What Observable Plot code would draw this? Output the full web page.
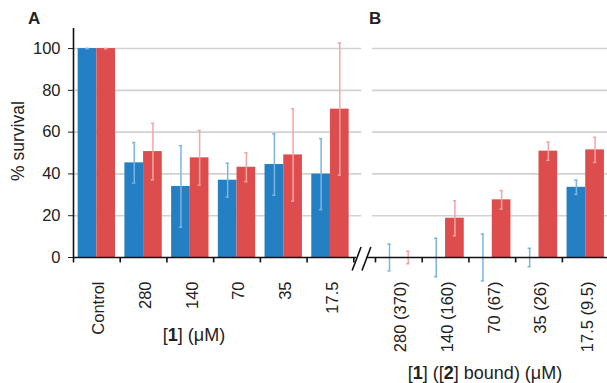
<!DOCTYPE html>
<html>
<head>
<meta charset="utf-8">
<script src="https://cdn.jsdelivr.net/npm/d3@7"></script>
<script src="https://cdn.jsdelivr.net/npm/@observablehq/plot@0.6"></script>
<style>
  html, body { margin: 0; padding: 0; background: #fff; }
  #wrap { position: relative; width: 607px; height: 383px; overflow: hidden; font-family: "Liberation Sans", Arial, sans-serif; color: #222; }
  .lbl { position: absolute; white-space: nowrap; transform: translate(-50%, -50%); font-size: 18px; }
  .panel { position: absolute; font-weight: bold; font-size: 17px; }
</style>
</head>
<body>
<div id="wrap"></div>
<script>
// ---- data ----
const catsA = ["Control", "280", "140", "70", "35", "17.5"];
const blueA = [100, 45.3, 34.0, 37.0, 44.5, 39.9];
const blueErrA = [0, 9.7, 19.5, 8.1, 14.7, 17.0];
const redA = [100, 50.7, 47.7, 43.2, 49.1, 71.0];
const redErrA = [0, 13.5, 13.1, 6.9, 22.1, 31.6];

const catsB = ["280 (370)", "140 (160)", "70 (67)", "35 (26)", "17.5 (9.5)"];
const blueB = [0, 0, 0, 0, 33.6];
const blueErrB = [6.4, 9.2, 11.2, 4.4, 3.4];
const redB = [0, 18.8, 27.6, 50.9, 51.5];
const redErrB = [3.0, 8.4, 4.4, 4.4, 6.0];

const yTicks = [0, 20, 40, 60, 80, 100];

// ---- layout constants (in band units) ----
const BSTART = 6.464;        // start of panel B after the axis break
const XMAX = 11.43;
const YMAX = 109.6;
const BLUE = "#2580c3", RED = "#dd4d4d";
const BLUE_E = "#7ab5e4", RED_E = "#f5a5a5";

function build(cats, blue, blueErr, red, redErr, start) {
  return cats.map((c, i) => ({
    cat: c, x0: start + i,
    blue: blue[i], blueErr: blueErr[i], red: red[i], redErr: redErr[i]
  }));
}
const groups = [...build(catsA, blueA, blueErrA, redA, redErrA, 0),
                ...build(catsB, blueB, blueErrB, redB, redErrB, BSTART)];

const bars = groups.flatMap(g => [
  {x1: g.x0 + 0.1, x2: g.x0 + 0.5, v: g.blue, e: g.blueErr, s: "blue"},
  {x1: g.x0 + 0.5, x2: g.x0 + 0.9, v: g.red, e: g.redErr, s: "red"}
]);
const errs = bars.map(b => ({...b, xc: (b.x1 + b.x2) / 2}));
const cap = 0.035;

const boundaries = [...d3.range(0, 7), ...d3.range(0, 5).map(i => BSTART + i)];
const grid = yTicks.filter(t => t > 0).flatMap(t => [
  {y: t, x1: 0, x2: 6.17},
  {y: t, x1: 6.40, x2: XMAX}
]);
const axisSegs = [{x1: 0, x2: 6.06}, {x1: 6.27, x2: XMAX}];
const slashes = [6.06, 6.27];
const eColor = d => d.s === "blue" ? BLUE_E : RED_E;

const plot = Plot.plot({
  width: 607,
  height: 383,
  marginLeft: 73,
  marginRight: 0,
  marginTop: 28,
  marginBottom: 126,
  style: {fontFamily: "Liberation Sans, Arial, sans-serif", fontSize: "16.5px", color: "#222", background: "transparent"},
  x: {domain: [0, XMAX], axis: null},
  y: {domain: [0, YMAX], ticks: yTicks, tickSize: 5, tickPadding: 8, label: null, tickFormat: d => d},
  marks: [
    Plot.ruleY(grid, {y: "y", x1: "x1", x2: "x2", stroke: "#d2d2d2", strokeWidth: 1.6}),
    Plot.rect(bars, {x1: "x1", x2: "x2", y1: () => 0, y2: "v", fill: d => d.s === "blue" ? BLUE : RED}),
    Plot.ruleX(errs, {x: "xc", y1: d => d.v - d.e, y2: d => d.v + d.e, stroke: eColor, strokeWidth: 1.5}),
    Plot.ruleY(errs, {y: d => d.v + d.e, x1: d => d.xc - cap, x2: d => d.xc + cap, stroke: eColor, strokeWidth: 1.5}),
    Plot.ruleY(errs, {y: d => d.v - d.e, x1: d => d.xc - cap, x2: d => d.xc + cap, stroke: eColor, strokeWidth: 1.5}),
    Plot.ruleY(axisSegs, {y: () => 0, x1: "x1", x2: "x2", stroke: "#111", strokeWidth: 1.6}),
    Plot.ruleX([0], {y1: 0, y2: YMAX, stroke: "#111", strokeWidth: 1.6}),
    Plot.ruleX(boundaries, {x: d => d, y1: () => 0, y2: () => -2.6, stroke: "#111", strokeWidth: 1.6}),
    Plot.link(slashes, {x1: d => d - 0.095, x2: d => d + 0.095, y1: () => -6.2, y2: () => 5.0, stroke: "#111", strokeWidth: 1.6}),
    Plot.text(groups, {x: d => d.x0 + 0.5, y: () => 0, text: "cat", rotate: -90, textAnchor: "end", dy: 24, dx: 2, fill: "#222", fontSize: 16.5}),
    Plot.text(["% survival"], {frameAnchor: "left", text: d => d, rotate: -90, textAnchor: "middle", dx: -55, dy: -2, fill: "#222", fontSize: 17.5})
  ]
});

const wrap = document.getElementById("wrap");
plot.style.position = "absolute";
plot.style.left = "0";
plot.style.top = "0";
wrap.appendChild(plot);

function addDiv(cls, html, left, top) {
  const d = document.createElement("div");
  d.className = cls;
  d.innerHTML = html;
  d.style.left = left + "px";
  d.style.top = top + "px";
  wrap.appendChild(d);
}
addDiv("lbl", "[<b>1</b>] (μM)", 194, 335);
addDiv("lbl", "[<b>1</b>] ([<b>2</b>] bound) (μM)", 485, 373);
addDiv("panel", "A", 28, 9);
addDiv("panel", "B", 369, 9);
</script>
</body>
</html>
